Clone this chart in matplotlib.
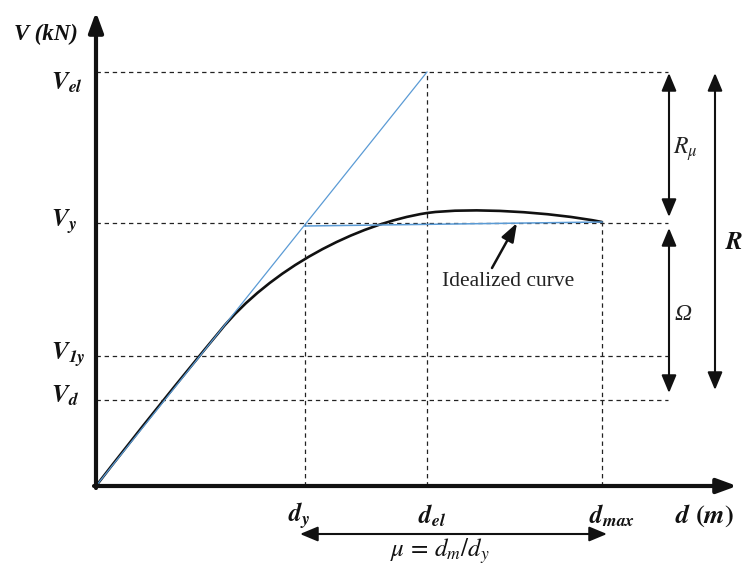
import matplotlib
matplotlib.use("Agg")
import matplotlib.pyplot as plt
from matplotlib.path import Path
from matplotlib.patches import PathPatch

plt.rcParams['mathtext.fontset'] = 'stix'

# ---- schematic values (arbitrary units, origin at 0,0) ----
d_labels = [r'$\mathbfit{d}_{\mathbfit{y}}$', r'$\mathbfit{d}_{\mathbfit{el}}$', r'$\mathbfit{d}_{\mathbfit{max}}$']
d_values = [209, 331, 506]          # d_y, d_el, d_max
V_labels = [r'$\mathbfit{V}_{\mathbfit{el}}$', r'$\mathbfit{V}_{\mathbfit{y}}$',
            r'$\mathbfit{V}_{\mathbfit{1y}}$', r'$\mathbfit{V}_{\mathbfit{d}}$']
V_values = [414, 263, 130, 86]      # V_el, V_y, V_1y, V_d

# capacity (pushover) curve, given as cubic Bezier nodes and control points
curve_d = [0, 40, 85, 124, 174, 260, 331, 375, 455, 506]
curve_V = [0, 52, 108, 155, 217, 262, 273, 279, 274, 264]

# idealized bilinear curve
elastic_d = [0, 331]
elastic_V = [0, 414]
plastic_d = [209, 506]
plastic_V = [260, 264]

d_y, d_el, d_max = d_values
V_el, V_y, V_1y, V_d = V_values

fig = plt.figure(figsize=(7.42, 5.70), dpi=100)
ax = fig.add_axes([0, 0, 1, 1])
ax.set_xlim(-96, 646)
ax.set_ylim(-84, 486)
ax.axis('off')

dash = dict(color='#222222', lw=0.9, linestyle=(0, (3.5, 3)))
x_end = 572
# horizontal dashed guides
for v in V_values:
    ax.plot([0, x_end], [v, v], **dash)
# vertical dashed guides
ax.plot([d_y, d_y], [0, V_y], **dash)
ax.plot([d_el, d_el], [0, V_el], **dash)
ax.plot([d_max, d_max], [0, V_y], **dash)

# blue idealized lines
blue = '#5b9bd5'
ax.plot(elastic_d, elastic_V, color=blue, lw=0.9)
ax.plot(plastic_d, plastic_V, color=blue, lw=1.1)

# black capacity curve (smooth cubic Bezier through the read points)
verts = list(zip(curve_d, curve_V))
codes = [Path.MOVETO] + [Path.CURVE4] * (len(verts) - 1)
ax.add_patch(PathPatch(Path(verts, codes), facecolor='none', edgecolor='#111111',
                       lw=1.9, capstyle='round', joinstyle='round'))

# axes arrows
axis_kw = dict(arrowstyle='-|>,head_length=0.6,head_width=0.22', lw=3.0, color='#111111',
               mutation_scale=20, shrinkA=0, shrinkB=0)
ax.annotate('', xy=(0, 474), xytext=(0, -2), arrowprops=axis_kw)
ax.annotate('', xy=(641, 0), xytext=(-2, 0), arrowprops=axis_kw)

# double arrows
dbl = dict(arrowstyle='<|-|>,head_length=0.6,head_width=0.25', lw=1.5, color='#111111',
           mutation_scale=18, shrinkA=0, shrinkB=0)
ax.annotate('', xy=(573, 413), xytext=(573, 269), arrowprops=dbl)
ax.annotate('', xy=(573, 258), xytext=(573, 93), arrowprops=dbl)
ax.annotate('', xy=(619, 413), xytext=(619, 96), arrowprops=dbl)
ax.annotate('', xy=(204, -48), xytext=(511, -48), arrowprops=dbl)

# idealized curve annotation
ax.annotate('', xy=(421, 263), xytext=(396, 218),
            arrowprops=dict(arrowstyle='-|>,head_length=0.7,head_width=0.25', lw=1.8,
                            color='#111111', mutation_scale=16, shrinkA=0, shrinkB=0))
ax.text(346, 204, 'Idealized curve', fontsize=15.5, family='Liberation Serif',
        ha='left', va='center', color='#222222')

# axis titles
ax.text(-50, 452, 'V (kN)', fontsize=16.5, family='Liberation Serif', fontweight='bold',
        style='italic', ha='center', va='center', color='#111111')
ax.text(609, -30, r'$\mathbfit{d}\ \mathbf{(}\mathbfit{m}\mathbf{)}$', fontsize=19,
        ha='center', va='center', color='#111111')

# V tick labels
V_label_y = [403, 264, 131, 90]
for lab, yy in zip(V_labels, V_label_y):
    ax.text(-45, yy, lab, fontsize=18, ha='left', va='center', color='#111111')

# d tick labels
d_label_x = [203, 336, 516]
for lab, xx in zip(d_labels, d_label_x):
    ax.text(xx, -30, lab, fontsize=18, ha='center', va='center', color='#111111')

# ratio labels
ax.text(344, -65, r'$\mu\,=\,d_m/d_y$', fontsize=18, ha='center', va='center', color='#111111')
ax.text(577, 337, r'$R_\mu$', fontsize=17, ha='left', va='center', color='#222222')
ax.text(578, 172, 'Ω', fontsize=17, family='Liberation Serif', style='italic',
        ha='left', va='center', color='#222222')
ax.text(629, 244, r'$\mathbfit{R}$', fontsize=18, ha='left', va='center', color='#111111')

fig.savefig('out.png', dpi=100)
